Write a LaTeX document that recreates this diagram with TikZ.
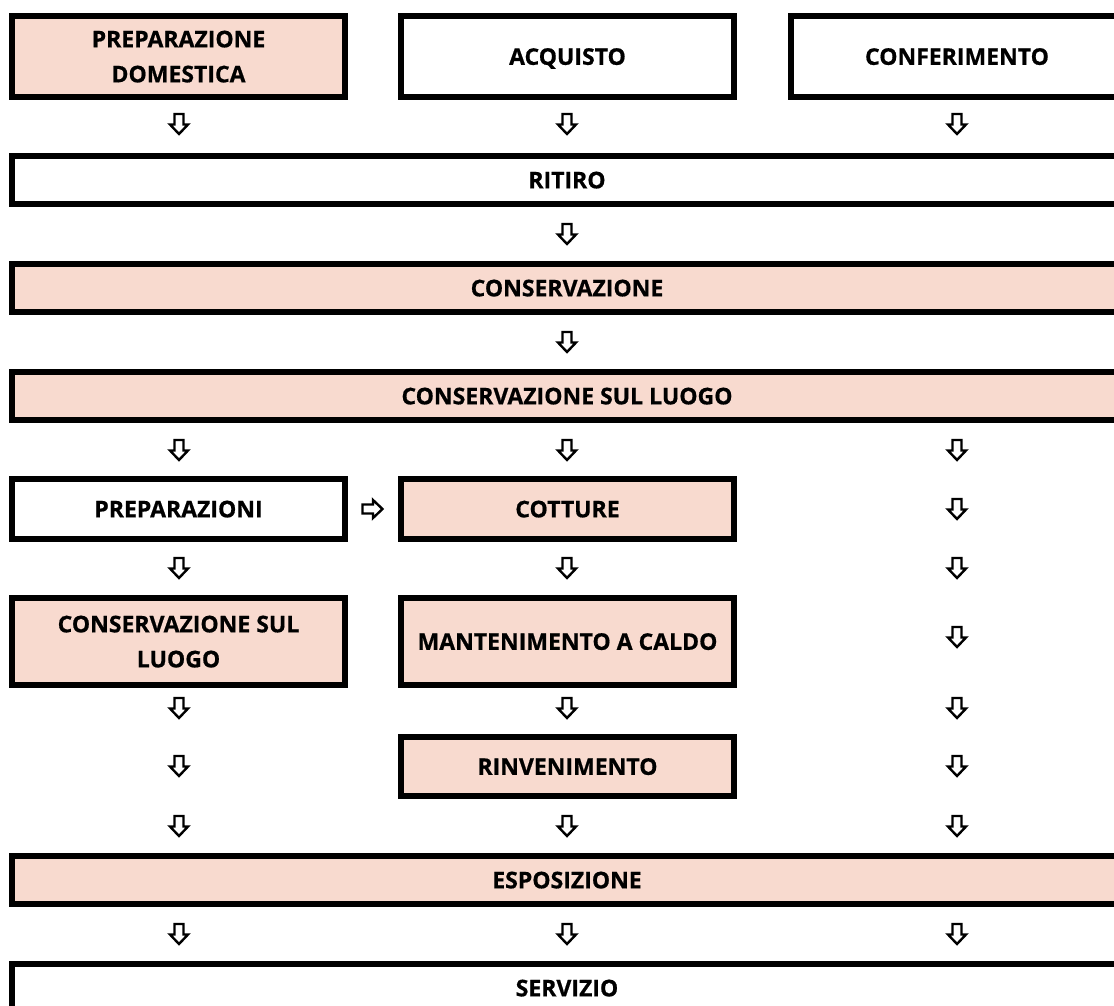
\documentclass[tikz,border=0pt]{standalone}
\usepackage{fontspec}
\setmainfont{Open Sans}
\newfontfamily\boxfont{Open Sans}[BoldFeatures={FakeBold=0.7}]
\definecolor{boxpink}{RGB}{248,218,207}
\tikzset{
  box/.style={draw=black, line width=5.5pt, inner sep=0pt, align=center,
    text depth=0pt, font=\boxfont\bfseries\fontsize{23}{35}\selectfont, text=black},
  pinkbox/.style={box, fill=boxpink},
  whitebox/.style={box, fill=white},
  darrow/.pic={\draw[line width=2.4pt, line join=miter, fill=white]
      (-4.5,-10) -- (4.5,-10) -- (4.5,0.5) -- (9,0.5) -- (0,10) -- (-9,0.5) -- (-4.5,0.5) -- cycle;},
  rarrow/.pic={\draw[line width=2.4pt, line join=miter, fill=white]
      (-10,-4.5) -- (0.5,-4.5) -- (0.5,-9) -- (10,0) -- (0.5,9) -- (0.5,4.5) -- (-10,4.5) -- cycle;}
}
\begin{document}
\begin{tikzpicture}[x=1pt,y=-1pt]
\useasboundingbox (0,0) rectangle (1114,1005);
\clip (0,0) rectangle (1114,1005);
\fill[white] (0,0) rectangle (1114,1005);
% boxes
\node[pinkbox, minimum width=333pt, minimum height=81pt] (pd) at (178.5,56.5) {PREPARAZIONE\\DOMESTICA};
\node[whitebox, minimum width=333pt, minimum height=81pt] (acq) at (567.5,56.5) {ACQUISTO};
\node[whitebox, minimum width=332pt, minimum height=81pt] (conf) at (957,56.5) {CONFERIMENTO};
\node[whitebox, minimum width=1110pt, minimum height=48pt] (ritiro) at (567,180) {RITIRO};
\node[pinkbox, minimum width=1110pt, minimum height=48pt] (cons) at (567,288) {CONSERVAZIONE};
\node[pinkbox, minimum width=1110pt, minimum height=48pt] (csl) at (567,396) {CONSERVAZIONE SUL LUOGO};
\node[whitebox, minimum width=333pt, minimum height=60pt] (prep) at (178.5,509) {PREPARAZIONI};
\node[pinkbox, minimum width=333pt, minimum height=60pt] (cott) at (567.5,509) {COTTURE};
\node[pinkbox, minimum width=333pt, minimum height=87pt] (cslb) at (178.5,641.5) {CONSERVAZIONE SUL\\LUOGO};
\node[pinkbox, minimum width=333pt, minimum height=87pt] (mant) at (567.5,641.5) {MANTENIMENTO A CALDO};
\node[pinkbox, minimum width=333pt, minimum height=59pt] (rinv) at (567.5,766.5) {RINVENIMENTO};
\node[pinkbox, minimum width=1110pt, minimum height=48pt] (espo) at (567,880) {ESPOSIZIONE};
\node[whitebox, minimum width=1110pt, minimum height=48pt] (serv) at (567,988) {SERVIZIO};
% down arrows
\foreach \y in {124,450,568,708,766,826,934} \pic at (179,\y) {darrow};
\foreach \y in {124,234,342,450,568,708,826,934} \pic at (567,\y) {darrow};
\foreach \y in {124,450,509,568,637,708,766,826,934} \pic at (957,\y) {darrow};
% right arrow
\pic at (372.5,509) {rarrow};
\end{tikzpicture}
\end{document}
